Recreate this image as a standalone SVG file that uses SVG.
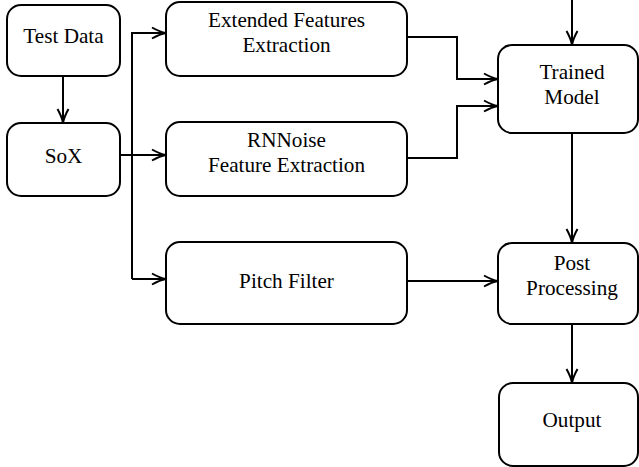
<svg xmlns="http://www.w3.org/2000/svg" width="639" height="467" viewBox="0 0 639 467">
<defs>
<style>
.box{fill:#fff;stroke:#000;stroke-width:2}
.t{font-family:"Liberation Serif",serif;font-size:21.2px;fill:#000;text-anchor:middle}
.c{fill:none;stroke:#000;stroke-width:2}
</style>
<marker id="ah" markerUnits="userSpaceOnUse" markerWidth="20" markerHeight="14" viewBox="-15 -7 16 14" refX="0" refY="0" orient="auto" overflow="visible">
<path d="M-14,-5.5 Q-6,-1 0,0 Q-6,1 -14,5.5" fill="none" stroke="#000" stroke-width="2"/>
</marker>
</defs>
<g id="connectors">
<path class="c" d="M63,76 V123" marker-end="url(#ah)"/>
<path class="c" d="M120,155 H166" marker-end="url(#ah)"/>
<path class="c" d="M132,279 V33 H166" marker-end="url(#ah)"/>
<path class="c" d="M132,279 H166" marker-end="url(#ah)"/>
<path class="c" d="M407,37 H457 V79 H498" marker-end="url(#ah)"/>
<path class="c" d="M407,158 H457 V106 H498" marker-end="url(#ah)"/>
<path class="c" d="M572,0 V45" marker-end="url(#ah)"/>
<path class="c" d="M572,133 V243" marker-end="url(#ah)"/>
<path class="c" d="M407,281 H498" marker-end="url(#ah)"/>
<path class="c" d="M572,324 V383" marker-end="url(#ah)"/>
</g>
<g id="test-data">
<rect class="box" x="7" y="5" width="113" height="71" rx="14"/>
<text class="t" x="63.5" y="42.5">Test Data</text>
</g>
<g id="sox">
<rect class="box" x="7" y="123" width="113" height="73" rx="14"/>
<text class="t" x="63.5" y="163">SoX</text>
</g>
<g id="extended">
<rect class="box" x="166" y="2" width="241" height="74" rx="14"/>
<text class="t" x="286.5" y="27">Extended Features</text>
<text class="t" x="286.5" y="52">Extraction</text>
</g>
<g id="rnnoise">
<rect class="box" x="166" y="122" width="241" height="74" rx="14"/>
<text class="t" x="286.5" y="147">RNNoise</text>
<text class="t" x="286.5" y="172">Feature Extraction</text>
</g>
<g id="pitch">
<rect class="box" x="166" y="242" width="241" height="82" rx="14"/>
<text class="t" x="286.5" y="288">Pitch Filter</text>
</g>
<g id="trained">
<rect class="box" x="498" y="45" width="140" height="88" rx="14"/>
<text class="t" x="572" y="79">Trained</text>
<text class="t" x="572" y="104">Model</text>
</g>
<g id="post">
<rect class="box" x="498" y="243" width="140" height="81" rx="14"/>
<text class="t" x="572" y="270">Post</text>
<text class="t" x="572" y="295">Processing</text>
</g>
<g id="output">
<rect class="box" x="499" y="383" width="139" height="83" rx="14"/>
<text class="t" x="572" y="427">Output</text>
</g>
</svg>
